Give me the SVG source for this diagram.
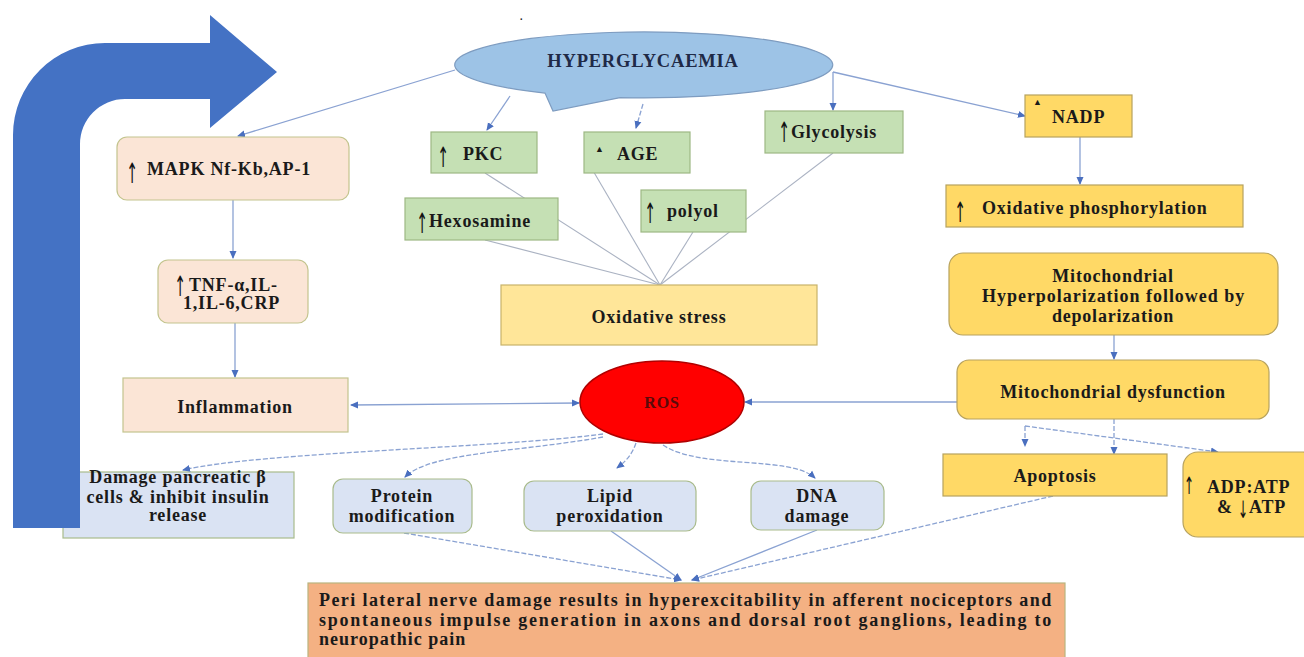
<svg xmlns="http://www.w3.org/2000/svg" width="1304" height="657" viewBox="0 0 1304 657">
<defs>
<style>
text{font-family:"Liberation Serif","Times New Roman",serif;font-weight:bold;font-size:18px;fill:#1a1a1a;letter-spacing:0.8px}
.c{text-anchor:middle}
.ar{font-family:"DejaVu Sans",sans-serif;font-weight:normal;font-size:28px;letter-spacing:0;text-anchor:middle;fill:#111111}
.tri{font-size:9px;letter-spacing:0}
.green{fill:#c5e0b4;stroke:#9db884;stroke-width:1.2}
.peach{fill:#fbe5d6;stroke:#c3c48e;stroke-width:1.2}
.lblue{fill:#dae3f3;stroke:#a9bb8c;stroke-width:1.2}
.ylight{fill:#ffe699;stroke:#c8b36a;stroke-width:1.2}
.yel{fill:#ffd966;stroke:#b7a25e;stroke-width:1.2}
.orange{fill:#f4b183;stroke:#b9b47f;stroke-width:1.2}
.con{fill:none;stroke:#8aa2d2;stroke-width:1.3}
.dash{stroke-dasharray:5 2}
.grey{fill:none;stroke:#aab2c2;stroke-width:1.1}
</style>
<marker id="ah" markerWidth="8" markerHeight="8" refX="7" refY="4" orient="auto-start-reverse" markerUnits="userSpaceOnUse">
<path d="M0,0.5 L8,4 L0,7.5 z" fill="#4a6fbf"/>
</marker>
</defs>
<rect width="1304" height="657" fill="#ffffff"/>
<text x="520" y="20" style="font-size:10px">.</text>

<g id="n-damage">
<rect class="lblue" x="63" y="472" width="231" height="66"/>
<text class="c" x="178" y="483">Damage pancreatic β</text>
<text class="c" x="178" y="503">cells &amp; inhibit insulin</text>
<text class="c" x="178" y="521">release</text>
</g>

<g id="n-bigarrow">
<path d="M 13 528 L 13 135 A 92 92 0 0 1 105 43 L 210 43 L 210 15 L 277 72 L 210 128 L 210 99 L 125 99 A 45 45 0 0 0 80 144 L 80 528 Z" fill="#4472c4"/>
</g>

<g id="connectors">
<line class="con" x1="455" y1="70" x2="238" y2="136" marker-end="url(#ah)"/>
<line class="con" x1="510" y1="96" x2="487" y2="130" marker-end="url(#ah)"/>
<line class="con dash" x1="643" y1="104" x2="636" y2="128" marker-end="url(#ah)"/>
<line class="con" x1="833" y1="72" x2="833" y2="110" marker-end="url(#ah)"/>
<line class="con" x1="833" y1="72" x2="1025" y2="116" marker-end="url(#ah)"/>
<line class="grey" x1="485" y1="173" x2="660" y2="285"/>
<line class="grey" x1="485" y1="240" x2="660" y2="285"/>
<line class="grey" x1="585" y1="157" x2="660" y2="285"/>
<line class="grey" x1="693" y1="232" x2="660" y2="285"/>
<line class="grey" x1="833" y1="153" x2="660" y2="285"/>
<line class="con" x1="233" y1="200" x2="233" y2="258" marker-end="url(#ah)"/>
<line class="con" x1="235" y1="323" x2="235" y2="377" marker-end="url(#ah)"/>
<line class="con" x1="351" y1="405" x2="579" y2="403" marker-start="url(#ah)" marker-end="url(#ah)"/>
<line class="con" x1="745" y1="402" x2="975" y2="402" marker-start="url(#ah)" marker-end="url(#ah)"/>
<path class="con dash" d="M 603 434 C 500 448, 260 452, 183 470" marker-end="url(#ah)"/>
<path class="con dash" d="M 603 437 C 520 452, 430 452, 405 477" marker-end="url(#ah)"/>
<path class="con dash" d="M 636 443 C 632 455, 625 462, 617 468" marker-end="url(#ah)"/>
<path class="con dash" d="M 663 445 C 700 470, 790 455, 815 478" marker-end="url(#ah)"/>
<line class="con dash" x1="404" y1="533" x2="681" y2="580" marker-end="url(#ah)"/>
<line class="con" x1="611" y1="531" x2="681" y2="580" marker-end="url(#ah)"/>
<line class="con" x1="817" y1="530" x2="692" y2="580" marker-end="url(#ah)"/>
<line class="con dash" x1="1053" y1="496" x2="692" y2="580" marker-end="url(#ah)"/>
<line class="con" x1="1080" y1="137" x2="1080" y2="184" marker-end="url(#ah)"/>
<line class="con" x1="1114" y1="335" x2="1114" y2="359" marker-end="url(#ah)"/>
<line class="con dash" x1="1114" y1="419" x2="1114" y2="454" marker-end="url(#ah)"/>
<line class="con dash" x1="1025" y1="426" x2="1025" y2="446" marker-end="url(#ah)"/>
<line class="con dash" x1="1025" y1="426" x2="1218" y2="452" marker-end="url(#ah)"/>
</g>

<g id="n-hyperglycaemia">
<path d="M 545 93.1 A 189 33 0 1 1 620 97.7 L 553 111 Z" fill="#9dc3e6" stroke="#7e9cc0" stroke-width="1.2"/>
<text class="c" x="643" y="67" style="fill:#1f2a47;font-size:18.5px">HYPERGLYCAEMIA</text>
</g>

<g id="n-mapk">
<rect class="peach" x="117" y="137" width="232" height="63" rx="10"/>
<text class="ar" transform="translate(132,183) scale(0.5,1)">↑</text>
<text x="147" y="175">MAPK Nf-Kb,AP-1</text>
</g>

<g id="n-tnf">
<rect class="peach" x="158" y="260" width="150" height="63" rx="10"/>
<text class="ar" transform="translate(180,296) scale(0.5,1)">↑</text>
<text x="189" y="291">TNF-α,IL-</text>
<text x="183" y="309">1,IL-6,CRP</text>
</g>

<g id="n-inflammation">
<rect class="peach" x="123" y="378" width="225" height="54"/>
<text class="c" x="235" y="413">Inflammation</text>
</g>

<g id="n-pkc">
<rect class="green" x="431" y="132" width="106" height="41"/>
<text class="ar" transform="translate(443,167) scale(0.5,1)">↑</text>
<text x="463" y="160">PKC</text>
</g>

<g id="n-age">
<rect class="green" x="584" y="132" width="106" height="41"/>
<text class="tri" x="595" y="152">▲</text>
<text x="617" y="160">AGE</text>
</g>

<g id="n-glycolysis">
<rect class="green" x="765" y="111" width="138" height="42"/>
<text class="ar" transform="translate(784,142) scale(0.5,1)">↑</text>
<text x="791" y="138">Glycolysis</text>
</g>

<g id="n-hexosamine">
<rect class="green" x="405" y="198" width="153" height="42"/>
<text class="ar" transform="translate(422,233) scale(0.5,1)">↑</text>
<text x="429" y="227">Hexosamine</text>
</g>

<g id="n-polyol">
<rect class="green" x="641" y="190" width="105" height="42"/>
<text class="ar" transform="translate(650,223) scale(0.5,1)">↑</text>
<text x="667" y="217">polyol</text>
</g>

<g id="n-oxstress">
<rect class="ylight" x="501" y="285" width="316" height="60"/>
<text class="c" x="659" y="323">Oxidative stress</text>
</g>

<g id="n-ros">
<ellipse cx="662" cy="402" rx="82" ry="41" fill="#ff0000" stroke="#b00000" stroke-width="1.5"/>
<text class="c" x="662" y="408" style="fill:#5a0a0a;font-size:16px">ROS</text>
</g>

<g id="n-protein">
<rect class="lblue" x="333" y="479" width="139" height="54" rx="10"/>
<text class="c" x="402" y="502">Protein</text>
<text class="c" x="402" y="522">modification</text>
</g>

<g id="n-lipid">
<rect class="lblue" x="524" y="481" width="172" height="50" rx="10"/>
<text class="c" x="610" y="502">Lipid</text>
<text class="c" x="610" y="522">peroxidation</text>
</g>

<g id="n-dna">
<rect class="lblue" x="751" y="481" width="133" height="49" rx="10"/>
<text class="c" x="817" y="502">DNA</text>
<text class="c" x="817" y="522">damage</text>
</g>

<g id="n-nadp">
<rect class="yel" x="1025" y="95" width="107" height="42"/>
<text class="tri" x="1033" y="105">▲</text>
<text x="1052" y="123">NADP</text>
</g>

<g id="n-oxphos">
<rect class="yel" x="946" y="185" width="297" height="42"/>
<text class="ar" transform="translate(960,222) scale(0.5,1)">↑</text>
<text x="982" y="214">Oxidative phosphorylation</text>
</g>

<g id="n-mitohyper">
<rect class="yel" x="949" y="253" width="329" height="82" rx="14"/>
<text class="c" x="1113" y="282">Mitochondrial</text>
<text x="982" y="302" textLength="263" lengthAdjust="spacing">Hyperpolarization followed by</text>
<text class="c" x="1113" y="322">depolarization</text>
</g>

<g id="n-mitodys">
<rect class="yel" x="957" y="360" width="312" height="59" rx="12"/>
<text class="c" x="1113" y="398">Mitochondrial dysfunction</text>
</g>

<g id="n-apoptosis">
<rect class="yel" x="943" y="454" width="224" height="42"/>
<text class="c" x="1055" y="482">Apoptosis</text>
</g>

<g id="n-adp">
<rect class="yel" x="1183" y="452" width="135" height="85" rx="15"/>
<text class="ar" transform="translate(1189,494) scale(0.5,1)" style="font-size:24px">↑</text>
<text x="1207" y="493">ADP:ATP</text>
<text x="1217" y="513">&amp;</text>
<text class="ar" transform="translate(1243,518) scale(0.5,1)" style="font-size:24px">↓</text>
<text x="1249" y="513">ATP</text>
</g>

<g id="n-pain">
<rect class="orange" x="308" y="583" width="757" height="80"/>
<text x="319" y="606" textLength="733" lengthAdjust="spacing">Peri lateral nerve damage results in hyperexcitability in afferent nociceptors and</text>
<text x="319" y="626" textLength="733" lengthAdjust="spacing">spontaneous impulse generation in axons and dorsal root ganglions, leading to</text>
<text x="319" y="645" style="letter-spacing:1px">neuropathic pain</text>
</g>
</svg>
